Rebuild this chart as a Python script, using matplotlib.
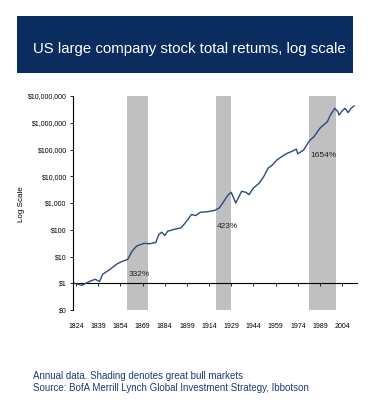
import matplotlib.pyplot as plt
from matplotlib.patches import Rectangle

# Index of $1 invested
years = [1823, 1828, 1833, 1837, 1840, 1842, 1847, 1852, 1856, 1859, 1862, 1865,
         1870, 1874, 1878, 1880, 1882, 1884, 1886, 1890, 1895, 1897, 1900, 1902,
         1905, 1908, 1912, 1915, 1918, 1921, 1924, 1927, 1929, 1931, 1932, 1934,
         1936, 1939, 1941, 1944, 1948, 1951, 1954, 1957, 1960, 1964, 1967, 1970,
         1973, 1974, 1978, 1982, 1985, 1989, 1994, 1996, 1999, 2001, 2002, 2004,
         2006, 2008, 2010, 2012]
values = [1.0, 0.84, 1.16, 1.41, 1.16, 2.16, 3.3, 5.4, 6.8, 7.8, 16, 24.5,
          31, 30, 33.5, 66, 81, 61, 88, 102, 118, 157, 257, 371,
          340, 450, 466, 495, 535, 660, 1160, 2050, 2500, 1350, 1000, 1650,
          2740, 2500, 2050, 3650, 5600, 9800, 20400, 27000, 41500, 58000, 73000, 85000,
          103000, 69000, 97000, 218000, 305000, 630000, 1.1e6, 1.95e6, 3.47e6, 2.6e6, 1.95e6, 2.83e6,
          3.47e6, 2.39e6, 3.47e6, 4.25e6]

# great bull markets (shaded) and their gains
bull_start = [1858.5, 1919, 1981.5]
bull_end = [1873, 1929, 1999.5]
bull_labels = ['332%', '423%', '1654%']
bull_label_pos = [(1867, 2.2), (1926.5, 132), (1991, 58000)]

ytick_vals = [0.1, 1, 10, 100, 1e3, 1e4, 1e5, 1e6, 1e7]
ytick_labels = ['$0', '$1', '$10', '$100', '$1,000', '$10,000', '$100,000',
                '$1,000,000', '$10,000,000']
xtick_years = list(range(1824, 2005, 15))

plt.rcParams['font.family'] = ['Liberation Sans', 'DejaVu Sans']

fig = plt.figure(figsize=(3.82, 4.19), dpi=100)

# title banner
fig.patches.append(Rectangle((17 / 382, 1 - 73 / 419), 336 / 382, 57 / 419,
                             transform=fig.transFigure, facecolor='#0a2c5e',
                             edgecolor='none'))
fig.text(189 / 382, 1 - 49 / 419, 'US large company stock total retums, log scale',
         color='white', fontsize=10.8, ha='center', va='center')

ax = fig.add_axes([73 / 382, 1 - 310 / 419, 284 / 382, 214 / 419])

for s, e in zip(bull_start, bull_end):
    ax.axvspan(s, e, color='#c0c0c0', lw=0, zorder=0)

ax.plot(years, values, color='#2b4a7c', lw=1.0, zorder=3)

for lab, (x, y) in zip(bull_labels, bull_label_pos):
    ax.text(x, y, lab, fontsize=6, ha='center', va='center', color='#222222')

ax.set_yscale('log')
ax.set_ylim(0.1, 1e7)
ax.set_xlim(1822, 2014)
ax.set_yticks(ytick_vals)
ax.set_yticklabels(ytick_labels)
ax.minorticks_off()
ax.set_xticks(xtick_years)
ax.set_xticklabels([str(y) for y in xtick_years])

ax.spines['top'].set_visible(False)
ax.spines['right'].set_visible(False)
ax.spines['bottom'].set_position(('data', 1))
ax.spines['left'].set_linewidth(0.8)
ax.spines['bottom'].set_linewidth(0.8)
ax.tick_params(axis='y', labelsize=5, length=2.5, width=0.6, pad=2)
ax.tick_params(axis='x', labelsize=5, length=2.5, width=0.6, pad=26)
ax.set_ylabel('Log Scale', fontsize=5.8)
ax.yaxis.set_label_coords(-0.169, 0.495)

fig.text(33 / 382, 1 - 376 / 419, 'Annual data. Shading denotes great bull markets',
         color='#1f3b78', fontsize=7, va='center')
fig.text(33 / 382, 1 - 388 / 419,
         'Source: BofA Merrill Lynch Global Investment Strategy, Ibbotson',
         color='#1f3b78', fontsize=7, va='center')

fig.savefig('out.png', dpi=100)
